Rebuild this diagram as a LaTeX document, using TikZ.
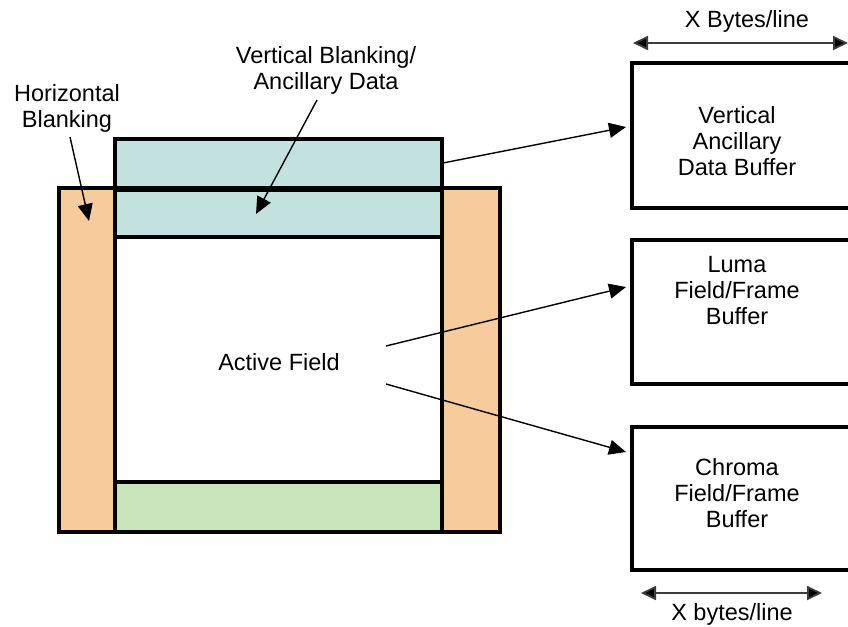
\documentclass[tikz,border=0pt]{standalone}
\usepackage{fontspec}
\setmainfont{Liberation Sans}
\usetikzlibrary{arrows.meta}
\definecolor{vbblue}{RGB}{194,225,223}
\definecolor{hborange}{RGB}{247,203,155}
\definecolor{vbgreen}{RGB}{201,228,186}
\tikzset{
  thick box/.style={draw=black, line width=4pt},
  lbl/.style={font=\fontsize{23.5}{26}\selectfont, align=center, inner sep=0pt},
  buf/.style={draw=black, line width=4pt, minimum width=230pt, inner sep=0pt},
  ptr/.style={line width=1.4pt, -{Triangle[length=17pt,width=15pt]}},
  dim/.style={line width=1.8pt, draw={rgb,255:red,60;green,60;blue,60}, {Triangle[length=15pt,width=14pt,fill=black]}-{Triangle[length=15pt,width=14pt,fill=black]}},
}
\begin{document}
\begin{tikzpicture}[x=1pt,y=-1pt]
\useasboundingbox (0,0) rectangle (848,626);
% frame
\path[fill=vbblue] (115,139) rectangle (442,190);
\path[fill=hborange] (59,188) rectangle (500,532);
\path[fill=vbblue] (115,190) rectangle (442,237);
\path[fill=white] (115,237) rectangle (442,482);
\path[fill=vbgreen] (115,482) rectangle (442,532);
\draw[thick box] (115,139) rectangle (442,190);
\draw[thick box] (59,188) rectangle (500,532);
\draw[thick box] (115,190) rectangle (442,237);
\draw[thick box] (115,237) rectangle (442,482);
\draw[thick box] (115,482) rectangle (442,532);
\coordinate (vbsrc) at (443,163);
% labels
\node[lbl] (hb) at (67,108) {Horizontal\\Blanking};
\node[lbl] (vb) at (326,70) {Vertical Blanking/\\Ancillary Data};
\node[lbl] (af) at (279,362) {Active Field};
% buffers
\node[buf, minimum height=145pt] (vab) at (747,135.5) {};
\node[buf, minimum height=144pt] (luma) at (747,312) {};
\node[buf, minimum height=143pt] (chroma) at (747,498.5) {};
\node[lbl] (vabt) at (737,141) {Vertical\\Ancillary\\Data Buffer};
\node[lbl] (lumat) at (737,291) {Luma\\Field/Frame\\Buffer};
\node[lbl] (chromat) at (737,493) {Chroma\\Field/Frame\\Buffer};
\node[lbl] (xtop) at (747,21) {X Bytes/line};
\node[lbl] (xbot) at (732,614) {X bytes/line};
% coordinates
\coordinate (hbs) at (70,137);
\coordinate (hbt) at (89,221);
\coordinate (vbs) at (317,100);
\coordinate (vbt) at (256,214);
\coordinate (afa) at (386,346);
\coordinate (afb) at (386,384);
\coordinate (vabin) at (626,127);
\coordinate (lumain) at (626,287);
\coordinate (chromain) at (626,452);
\coordinate (xtl) at (633,43);
\coordinate (xtr) at (848,43);
\coordinate (xbl) at (641,593);
\coordinate (xbr) at (822,593);
% arrows
\draw[ptr] (hbs) -- (hbt);
\draw[ptr] (vbs) -- (vbt);
\draw[ptr] (vbsrc) -- (vabin);
\draw[ptr] (afa) -- (lumain);
\draw[ptr] (afb) -- (chromain);
\draw[dim] (xtl) -- (xtr);
\draw[dim] (xbl) -- (xbr);
\end{tikzpicture}
\end{document}
